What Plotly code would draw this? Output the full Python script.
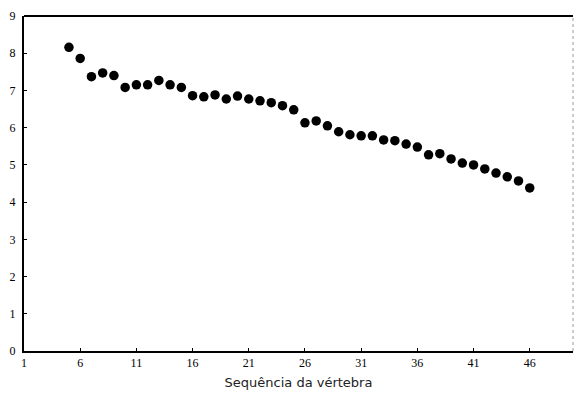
import plotly.graph_objects as go

vertebra = list(range(5, 47))
values = [8.16, 7.86, 7.37, 7.47, 7.40, 7.08, 7.15, 7.15, 7.27, 7.15, 7.08, 6.86,
          6.83, 6.88, 6.77, 6.85, 6.77, 6.72, 6.67, 6.59, 6.48, 6.13, 6.18, 6.05,
          5.89, 5.81, 5.78, 5.78, 5.67, 5.65, 5.56, 5.48, 5.27, 5.30, 5.16, 5.05,
          5.00, 4.89, 4.78, 4.68, 4.57, 4.38]
x_ticks = [1, 6, 11, 16, 21, 26, 31, 36, 41, 46]
y_ticks = [0, 1, 2, 3, 4, 5, 6, 7, 8, 9]

tick_font = dict(family="Liberation Serif", size=12, color="black")

fig = go.Figure()
fig.add_trace(go.Scatter(x=vertebra, y=values, mode="markers",
                         marker=dict(color="black", size=9.5, line=dict(width=0)),
                         showlegend=False))

fig.update_layout(
    width=574, height=397,
    margin=dict(l=24, r=1, t=16, b=46),
    paper_bgcolor="white", plot_bgcolor="white",
    font=dict(family="Liberation Serif", color="black", size=12),
    xaxis=dict(range=[1, 49.85], tickvals=x_ticks, showgrid=False, zeroline=False,
               showline=True, linecolor="black", linewidth=2, mirror=False,
               ticks="inside", ticklen=3, tickcolor="black",
               tickfont=tick_font,
               title=dict(text="Sequência da vértebra",
                          font=dict(family="DejaVu Sans", size=13, color="#222"),
                          standoff=8)),
    yaxis=dict(range=[0, 9], tickvals=y_ticks, showgrid=False, zeroline=False,
               showline=True, linecolor="black", linewidth=2,
               ticks="inside", ticklen=3, tickcolor="black",
               ticklabelstandoff=4,
               tickfont=tick_font),
    shapes=[dict(type="line", xref="paper", yref="paper", x0=0, x1=1, y0=1, y1=1,
                 line=dict(color="black", width=2)),
            dict(type="line", xref="paper", yref="paper", x0=1, x1=1, y0=0, y1=1,
                 line=dict(color="#999", width=1, dash="dot"))],
)

fig.write_html("out.html")
